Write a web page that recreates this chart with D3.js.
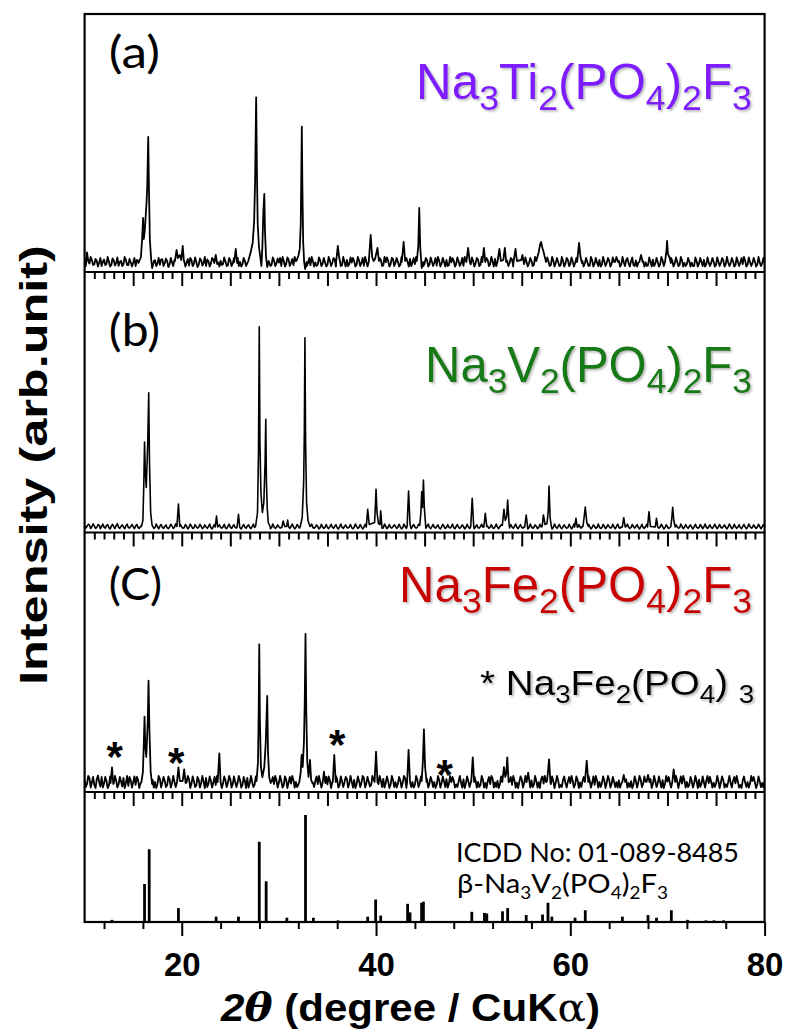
<!DOCTYPE html>
<html>
<head>
<meta charset="utf-8">
<script src="https://cdn.jsdelivr.net/npm/d3@7"></script>
<style>
  html, body { margin: 0; padding: 0; background: #fff; }
  svg { display: block; }
</style>
</head>
<body>
<svg id="chart" width="787" height="1030"></svg>
<script>
// ---------------------------------------------------------------
// XRD patterns, 2theta 10-80 deg. Background counts are sampled
// every 0.125 deg: the main arrays hold the values on the 0.25 grid,
// the *Mid arrays the values half a step later. Reflections are
// listed as runs of [2theta, counts].
// ---------------------------------------------------------------
const STEP = 0.25;

// (a) Na3Ti2(PO4)2F3
const noiseA = [
  140,195,85,120,75,110,95,60,125,80,105,70,118,88,62,112,78,122,68,98,
  92,58,115,84,104,72,90,80,62,118,86,72,128,88,108,76,96,120,110,85,
  70,112,92,64,120,82,100,74,118,90,60,108,86,124,70,96,112,80,104,66,
  118,84,96,140,102,76,110,88,100,70,112,90,64,106,120,82,98,72,116,86,
  94,60,112,80,126,90,70,108,84,102,76,120,88,66,110,96,74,118,82,100,
  72,114,90,126,84,106,68,100,122,80,94,110,70,116,88,62,104,92,120,78,
  108,84,120,66,98,112,76,130,90,104,72,118,86,100,130,94,80,110,68,102,
  86,120,74,104,92,64,116,84,100,122,70,96,112,80,108,88,62,118,94,76,
  110,86,124,72,100,92,118,78,106,130,84,98,120,74,112,90,126,82,104,96,
  120,78,100,88,112,70,108,124,96,118,84,106,72,114,90,100,66,110,86,120,
  80,104,92,118,76,110,88,100,64,116,84,96,122,72,108,90,114,78,102,86,
  112,74,98,120,88,106,70,116,92,80,110,96,66,104,124,84,100,76,118,90,
  98,74,112,86,104,68,116,92,80,108,94,62,110,84,100,120,76,96,88,106,
  70,102,90,114,78,98,86,110,66,104,92,80,112,74,100,88,106,72,96,84,
  92
];
const noiseAMid = [
  60,110,150,70,130,55,140,100,70,150,55,135,65,145,100,60,150,70,130,55,
  140,120,60,150,65,130,55,145,110,60,140,125,60,135,50,140,60,80,150,130,
  150,55,130,140,60,145,50,135,65,150,125,55,140,60,150,55,70,145,60,140,
  60,140,150,60,55,140,60,140,55,150,60,140,135,55,60,150,60,145,60,135,
  140,150,55,145,60,130,150,55,140,55,145,60,140,150,55,60,145,60,140,55,
  150,60,140,55,140,60,150,55,60,145,140,55,150,60,140,150,55,140,60,150,
  55,140,60,150,145,55,140,60,140,55,150,60,140,55,60,140,150,55,145,60,
  140,55,145,60,140,150,55,140,55,60,150,140,55,145,60,140,150,55,60,145,
  55,140,60,150,55,140,60,150,55,60,145,140,55,150,60,140,55,145,60,140,
  60,145,55,140,60,150,55,60,140,55,145,60,150,55,140,60,150,55,140,60,
  145,55,140,60,150,55,140,60,150,55,140,60,55,150,60,140,55,145,60,140,
  55,150,60,140,55,145,60,55,140,150,55,60,145,55,60,140,55,150,60,145,
  60,140,55,145,60,150,55,60,140,55,60,145,55,140,60,55,145,60,140,55,
  145,60,140,55,150,60,140,55,145,60,140,150,55,145,60,140,55,150,60,140
];
const peaksA = [
  [[15.55,90],[15.8,150],[15.92,330],[16.02,540],[16.1,330],[16.2,420],[16.38,700],[16.45,860],[16.55,1350],[16.63,800],[16.72,320],[16.85,130],[16.95,40],[17.1,90]],
  [[19.3,110],[19.47,220],[19.6,140],[19.8,170],[19.95,120],[20.1,260],[20.22,110]],
  [[23.35,90],[23.5,170],[23.65,80]],
  [[25.4,100],[25.56,230],[25.7,90]],
  [[26.85,110],[27.1,200],[27.3,290],[27.45,500],[27.55,900],[27.66,1747],[27.74,1000],[27.82,480],[27.95,250],[28.1,140],[28.2,60],[28.3,250],[28.4,600],[28.5,780],[28.57,400],[28.68,150],[28.8,50],[28.95,110]],
  [[31.8,110],[32.0,160],[32.15,230],[32.25,480],[32.3,900],[32.36,1453],[32.42,850],[32.5,300],[32.6,100],[32.7,30],[32.85,100]],
  [[35.9,110],[36.07,260],[36.2,150],[36.3,100]],
  [[39.25,100],[39.45,370],[39.6,150],[39.75,110],[39.9,130],[40.15,240],[40.3,110]],
  [[42.65,100],[42.84,300],[43.0,110]],
  [[44.2,110],[44.35,260],[44.45,640],[44.55,250],[44.7,40],[44.85,100]],
  [[49.3,100],[49.48,240],[49.65,100]],
  [[50.95,100],[51.1,240],[51.25,100]],
  [[52.5,100],[52.7,230],[52.85,110],[53.1,120],[53.26,240],[53.4,100]],
  [[54.15,100],[54.36,230],[54.5,110],[54.95,120],[55.07,170],[55.2,100]],
  [[56.5,110],[56.75,200],[56.9,280],[57.0,300],[57.1,250],[57.25,200],[57.5,100]],
  [[60.7,100],[60.9,290],[61.05,150],[61.2,90]],
  [[64.6,100],[64.75,150],[64.9,100]],
  [[67.1,100],[67.28,170],[67.45,100]],
  [[69.75,100],[69.9,220],[69.96,310],[70.05,180],[70.2,150],[70.35,90]]
];

// (b) Na3V2(PO4)2F3
const noiseB = [
  70,62,75,58,66,50,72,60,54,68,48,64,58,70,52,62,56,66,50,60,
  58,64,50,62,56,48,60,54,66,50,58,62,52,60,48,56,64,52,58,50,
  56,48,60,52,64,46,58,54,62,50,56,60,48,58,52,62,50,56,46,60,
  54,62,50,58,48,60,54,64,52,58,50,56,62,48,58,54,60,50,56,52,
  58,50,62,54,48,60,56,50,64,52,58,46,56,62,50,54,60,48,58,52,
  50,58,54,62,48,56,52,60,50,58,46,54,62,52,56,50,60,48,58,54,
  60,52,56,48,62,54,50,58,64,52,56,48,60,54,50,62,56,52,58,48,
  56,62,50,58,52,60,48,56,62,50,54,58,48,60,52,56,62,50,58,54,
  52,58,48,60,54,50,62,56,48,58,52,60,54,50,58,46,56,62,52,58,
  50,56,60,48,58,52,62,50,56,54,60,48,58,52,56,62,50,58,54,48,
  58,52,60,50,56,62,48,54,58,52,60,50,56,48,62,54,58,50,56,60,
  52,58,48,60,54,50,58,62,52,56,48,60,54,58,50,62,52,56,60,50,
  56,50,62,54,58,48,60,52,56,62,50,58,54,48,60,56,52,58,50,62,
  54,58,50,60,52,56,62,48,58,54,50,60,56,52,62,50,58,54,60,56,
  58
];
const noiseBMid = [
  45,82,40,86,42,78,38,84,44,80,36,82,40,88,42,76,38,84,44,80,
  38,80,42,76,36,82,44,78,40,84,36,80,42,76,38,82,40,86,36,78,
  42,80,36,84,40,78,44,82,38,76,42,84,36,80,40,78,44,82,38,84,
  40,78,44,82,36,80,42,76,38,84,40,80,36,82,44,78,38,84,42,76,
  44,80,38,76,42,84,36,80,44,78,40,82,38,84,42,76,36,82,40,80,
  38,82,42,78,36,84,40,76,44,80,38,84,42,78,36,82,44,76,40,84,
  36,78,42,84,38,80,44,76,40,82,36,84,42,78,38,80,44,82,36,76,
  42,84,38,80,44,76,36,82,40,78,44,84,38,80,42,76,36,82,40,84,
  38,76,44,82,36,80,42,78,40,84,38,76,44,82,36,80,42,84,38,78,
  44,80,36,84,42,76,38,82,40,80,44,78,36,84,42,80,38,76,44,82,
  36,84,40,78,44,80,38,82,36,76,42,84,40,80,38,78,44,82,36,84,
  42,76,38,84,40,80,44,78,36,82,42,84,38,76,40,80,44,82,36,78,
  40,82,36,78,44,84,38,80,42,76,36,82,44,80,38,84,40,76,42,82,
  38,80,44,76,36,84,40,82,42,78,38,80,36,84,44,76,40,82,38,80
];
const peaksB = [
  [[15.85,60],[16.0,120],[16.1,500],[16.17,905],[16.25,600],[16.35,450],[16.5,900],[16.6,1398],[16.68,700],[16.8,200],[16.95,70]],
  [[19.5,60],[19.66,285],[19.8,60]],
  [[23.45,55],[23.58,165],[23.7,55]],
  [[25.7,55],[25.84,182],[25.97,55]],
  [[27.6,60],[27.8,200],[27.9,800],[27.98,2058],[28.05,900],[28.15,400],[28.3,200],[28.45,300],[28.58,700],[28.65,1132],[28.72,500],[28.8,250],[28.9,100],[29.1,60]],
  [[30.3,50],[30.44,115],[30.6,60],[30.8,60],[30.9,125],[31.0,55]],
  [[32.2,60],[32.4,150],[32.55,500],[32.62,1000],[32.68,1948],[32.75,900],[32.85,300],[33.0,120],[33.2,60]],
  [[39.0,55],[39.14,232],[39.3,80],[39.85,100],[39.95,300],[40.0,432],[40.1,200],[40.25,90],[40.4,80],[40.48,218],[40.6,60]],
  [[43.2,60],[43.35,415],[43.5,80]],
  [[44.5,70],[44.62,200],[44.7,408],[44.78,250],[44.88,525],[44.97,250],[45.1,80]],
  [[49.75,60],[49.9,342],[50.05,70]],
  [[51.1,55],[51.25,192],[51.4,60]],
  [[53.0,70],[53.17,232],[53.3,120],[53.45,160],[53.55,325],[53.7,80]],
  [[55.3,55],[55.46,175],[55.6,55]],
  [[57.1,60],[57.23,175],[57.4,80],[57.6,90],[57.72,200],[57.81,465],[57.92,150],[58.05,60]],
  [[60.45,55],[60.58,142],[60.7,60]],
  [[61.3,60],[61.42,150],[61.54,255],[61.7,100],[61.85,60]],
  [[65.35,55],[65.5,148],[65.65,55]],
  [[67.95,55],[68.1,208],[68.25,60],[68.75,55],[68.87,142],[69.0,55]],
  [[70.35,60],[70.45,150],[70.54,252],[70.65,120],[70.8,55]]
];

// (c) Na3Fe2(PO4)2F3
const noiseC = [
  120,80,140,95,70,125,100,150,85,110,65,130,90,115,75,105,140,88,60,118,
  96,72,124,84,108,140,90,66,120,100,78,132,94,112,70,126,86,104,140,92,
  74,118,96,130,82,108,66,122,90,104,140,80,112,94,70,126,100,84,116,90,
  130,76,104,92,120,68,110,140,88,100,72,124,96,80,114,90,132,104,78,120,
  92,110,70,126,96,84,118,100,72,130,88,108,64,122,94,112,80,104,136,90,
  76,118,100,88,126,70,110,96,132,84,104,120,78,112,92,140,86,102,68,124,
  96,80,114,130,90,106,72,120,98,84,116,92,136,78,108,100,70,124,88,112,
  94,130,84,110,100,72,118,90,106,128,80,98,114,76,104,92,126,86,110,96,
  82,116,100,70,124,92,108,80,134,96,112,76,102,120,88,106,72,118,94,100,
  128,86,104,92,116,74,110,98,132,84,100,120,78,108,94,114,70,122,90,104,
  88,112,76,120,96,104,130,82,110,92,72,118,100,86,114,94,124,80,106,98,
  116,84,100,126,90,108,74,112,96,120,82,104,92,130,78,110,88,100,118,86,
  104,92,120,76,110,96,84,116,100,72,112,90,106,124,80,98,114,88,102,94,
  82,108,96,118,78,100,92,112,86,104,70,116,94,100,84,110,96,80,106,92,
  100
];
const noiseCMid = [
  50,160,45,150,40,165,55,45,150,40,155,50,160,45,150,55,40,160,150,45,
  155,150,40,160,45,50,155,150,45,40,160,45,150,50,155,45,160,50,45,155,
  150,45,160,40,155,50,150,45,160,40,50,155,45,150,160,45,40,155,50,160,
  45,155,50,160,45,150,40,45,160,50,155,45,150,160,45,50,40,150,160,45,
  160,45,155,40,150,160,45,50,155,45,160,40,150,45,50,155,160,45,40,150,
  155,40,50,160,45,155,50,150,45,160,45,40,155,50,160,45,150,55,160,40,
  45,160,50,45,155,40,160,50,45,150,45,160,40,155,50,45,160,50,155,45,
  160,45,150,50,40,160,45,155,50,45,160,150,45,50,160,45,40,155,50,160,
  155,45,50,160,45,40,150,160,45,50,40,155,160,45,50,150,160,45,40,155,
  45,160,150,45,50,160,45,40,155,160,45,50,155,40,160,45,50,155,45,150,
  160,45,155,40,50,150,45,160,45,155,160,45,50,155,40,160,45,150,50,45,
  45,155,160,45,50,40,155,45,160,50,155,45,150,40,160,50,155,45,40,160,
  150,45,50,160,40,155,160,45,50,150,45,160,40,50,155,45,160,150,45,50,
  160,40,155,45,50,160,45,150,160,45,40,155,50,45,160,150,40,155,50,45
];
const peaksC = [
  [[12.68,90],[12.82,247],[12.95,80]],
  [[15.85,100],[16.0,200],[16.1,500],[16.17,753],[16.25,450],[16.35,350],[16.5,700],[16.58,1113],[16.68,600],[16.8,200],[16.95,80]],
  [[19.5,90],[19.66,247],[19.8,110],[20.1,110],[20.25,227],[20.4,90]],
  [[23.7,100],[23.87,387],[24.0,100]],
  [[27.7,110],[27.85,300],[27.92,800],[27.98,1477],[28.05,700],[28.15,250],[28.3,150],[28.5,250],[28.65,500],[28.8,960],[28.88,400],[29.0,150],[29.15,90]],
  [[32.1,100],[32.25,200],[32.34,370],[32.45,250],[32.58,500],[32.66,900],[32.74,1580],[32.82,800],[32.92,300],[33.05,150],[33.2,320],[33.32,120],[33.45,90]],
  [[34.5,90],[34.64,203],[34.78,90]],
  [[35.55,100],[35.7,370],[35.85,100]],
  [[39.85,100],[40.0,403],[40.15,100]],
  [[43.2,100],[43.35,420],[43.5,100]],
  [[44.7,110],[44.82,300],[44.93,627],[45.05,250],[45.2,100]],
  [[49.8,100],[49.96,347],[50.1,100]],
  [[53.0,100],[53.17,248],[53.3,150],[53.4,180],[53.51,347],[53.65,100]],
  [[55.5,100],[55.66,193],[55.8,100]],
  [[57.6,110],[57.7,200],[57.81,327],[57.95,100]],
  [[61.5,100],[61.69,313],[61.85,100]],
  [[65.35,100],[65.5,170],[65.65,100]],
  [[67.85,100],[68.0,170],[68.15,100]],
  [[70.5,100],[70.64,227],[70.8,100]]
];
// impurity reflections marked with * in (c): [2theta, counts]
const starMarks = [[13.09,395],[19.43,330],[36.0,515],[47.06,215]];

// ICDD 01-089-8485, beta-Na3V2(PO4)2F3 reference lines (relative intensity)
const refPos = [12.82,16.17,16.65,19.66,23.54,25.84,27.98,28.69,30.82,32.74,33.55,36.08,
  39.14,39.96,40.48,43.25,43.5,44.69,44.88,49.86,51.16,51.4,53.02,53.55,55.46,57.14,
  57.7,58.1,60.49,61.54,65.36,68.0,68.87,70.4,72.07,73.96,74.8,75.76,79.6];
const refInt = [2,35.5,68,13,5,5,75,38,4,100,4,1.5,
  5,21,6,17,9,18,19,9.5,8.5,8,10,13,6.5,7,
  18,5,4,11,5,6.5,4,11,2,1.5,1.5,1.5,1];

// axis ticks
const labelTicks = [20, 40, 60, 80];
const minorBottomTicks = [12,16,24,28,32,36,44,48,52,56,64,68,72,76];
const boundaryMajor = [15,20,25,30,35,40,45,50,55,60,65,70,75];
const boundaryMinor = d3.range(11, 80).filter(v => v % 5 !== 0);

// ---------------------------------------------------------------
const svg = d3.select("#chart");
const X0 = 84.6, X1 = 764.6;
const x = d3.scaleLinear().domain([10, 80]).range([X0, X1]);

const TOP = 14, B1 = 272, B2 = 532.5, B3 = 792, BOTTOM = 922;

const panels = [
  { id: "a", top: TOP, bottom: B1, yMax: 2580, noise: noiseA, mid: noiseAMid, peaks: peaksA, sw: 1.8 },
  { id: "b", top: B1,  bottom: B2, yMax: 2605, noise: noiseB, mid: noiseBMid, peaks: peaksB, sw: 1.6 },
  { id: "c", top: B2,  bottom: B3, yMax: 2595, noise: noiseC, mid: noiseCMid, peaks: peaksC, sw: 1.8 }
];

// merge background samples with reflection runs (background points that
// fall inside a reflection run are replaced by that run)
function buildSeries(noise, mid, peaks) {
  const spans = peaks.map(p => [p[0][0], p[p.length - 1][0]]);
  const bg = [];
  noise.forEach((v, i) => {
    bg.push([10 + i * STEP, v]);
    if (i < mid.length) bg.push([10 + i * STEP + STEP / 2, mid[i]]);
  });
  const pts = bg.filter(d => !spans.some(s => d[0] >= s[0] && d[0] <= s[1]));
  peaks.forEach(p => p.forEach(q => pts.push(q)));
  pts.sort((a, b) => a[0] - b[0]);
  return pts;
}

const defs = svg.append("defs");
const shadow = defs.append("filter").attr("id", "shadow")
  .attr("x", "-10%").attr("y", "-20%").attr("width", "130%").attr("height", "150%");
shadow.append("feDropShadow").attr("dx", 1.6).attr("dy", 1.6)
  .attr("stdDeviation", 1.1).attr("flood-color", "#777").attr("flood-opacity", 0.55);

panels.forEach(p => {
  defs.append("clipPath").attr("id", "clip-" + p.id)
    .append("rect").attr("x", X0).attr("y", p.top)
    .attr("width", X1 - X0).attr("height", p.bottom - p.top);
  const y = d3.scaleLinear().domain([0, p.yMax]).range([p.bottom, p.top]);
  const line = d3.line().x(d => x(d[0])).y(d => y(d[1]));
  svg.append("path")
    .datum(buildSeries(p.noise, p.mid, p.peaks))
    .attr("clip-path", "url(#clip-" + p.id + ")")
    .attr("d", line)
    .attr("fill", "none")
    .attr("stroke", "#000")
    .attr("stroke-width", p.sw)
    .attr("stroke-linejoin", "round");
  p.y = y;
});

// reference stick pattern
const yRef = d3.scaleLinear().domain([0, 121.5]).range([BOTTOM, B3]);
svg.append("g").selectAll("line")
  .data(refPos.map((t, i) => [t, refInt[i]]))
  .join("line")
  .attr("x1", d => x(d[0])).attr("x2", d => x(d[0]))
  .attr("y1", yRef(0)).attr("y2", d => yRef(d[1]))
  .attr("stroke", "#000").attr("stroke-width", 2.8);

// ticks on the panel boundaries (pointing down)
[B1, B2, B3].forEach(yy => {
  const gMinor = svg.append("g").attr("transform", `translate(0,${yy})`)
    .call(d3.axisBottom(x).tickValues(boundaryMinor).tickSize(7).tickSizeOuter(0).tickFormat(""));
  const gMajor = svg.append("g").attr("transform", `translate(0,${yy})`)
    .call(d3.axisBottom(x).tickValues(boundaryMajor).tickSize(14).tickSizeOuter(0).tickFormat(""));
  [gMinor, gMajor].forEach(g => {
    g.select(".domain").remove();
    g.selectAll("line").attr("stroke", "#000").attr("stroke-width", 2);
  });
});

// bottom axis
const gBm = svg.append("g").attr("transform", `translate(0,${BOTTOM})`)
  .call(d3.axisBottom(x).tickValues(minorBottomTicks).tickSize(7).tickSizeOuter(0).tickFormat(""));
const gBM = svg.append("g").attr("transform", `translate(0,${BOTTOM})`)
  .call(d3.axisBottom(x).tickValues(labelTicks).tickSize(14).tickSizeOuter(0).tickPadding(17)
    .tickFormat(d3.format("d")));
[gBm, gBM].forEach(g => {
  g.select(".domain").remove();
  g.selectAll("line").attr("stroke", "#000").attr("stroke-width", 2);
});
gBM.selectAll("text")
  .attr("fill", "#000")
  .style("font-family", "'Liberation Sans', Arial, sans-serif")
  .style("font-weight", "bold")
  .style("font-size", "33px");

// frame and panel separators
svg.append("rect").attr("x", X0).attr("y", TOP)
  .attr("width", X1 - X0).attr("height", BOTTOM - TOP)
  .attr("fill", "none").attr("stroke", "#000").attr("stroke-width", 2.2);
[B1, B2, B3].forEach(yy => {
  svg.append("line").attr("x1", X0).attr("x2", X1).attr("y1", yy).attr("y2", yy)
    .attr("stroke", "#000").attr("stroke-width", 2.2);
});

// ---------------------------------------------------------------
// text helpers
function fitX(sel, left, right) {
  const bb = sel.node().getBBox();
  const s = (right - left) / bb.width;
  sel.attr("transform", `translate(${left},0) scale(${s},1) translate(${-bb.x},0)`);
}
// parts: [text, isSubscript]
function chem(parent, parts, baseY, size, color, font, subScale, subDrop) {
  const t = parent.append("text")
    .attr("x", 0).attr("y", baseY)
    .style("font-family", font)
    .style("font-size", size + "px")
    .attr("fill", color);
  let down = false;
  parts.forEach(([s, sub]) => {
    const ts = t.append("tspan").text(s);
    if (sub && !down) { ts.attr("dy", subDrop).style("font-size", (size * subScale) + "px"); down = true; }
    else if (sub) { ts.style("font-size", (size * subScale) + "px"); }
    else if (!sub && down) { ts.attr("dy", -subDrop); down = false; }
  });
  return t;
}

const ARIAL = "'Liberation Sans', Arial, Helvetica, sans-serif";
const CAL = "Lato, 'Open Sans', sans-serif";

// panel tags
[["(a)", 68.3, 108.8, 160], ["(b)", 346, 108.8, 160], ["(C)", 600, 108.8, 162.2]].forEach(([s, yb, l, r]) => {
  const t = svg.append("text").attr("x", 0).attr("y", yb).text(s)
    .style("font-family", CAL).style("font-size", "44px").attr("fill", "#000");
  fitX(t, l, r);
});

// compound names
const fA = chem(svg, [["Na",0],["3",1],["Ti",0],["2",1],["(PO",0],["4",1],[")",0],["2",1],["F",0],["3",1]],
  99.3, 50, "#7f1cff", ARIAL, 0.72, 11);
fA.attr("filter", "url(#shadow)");
fitX(fA, 416, 752);

const fB = chem(svg, [["Na",0],["3",1],["V",0],["2",1],["(PO",0],["4",1],[")",0],["2",1],["F",0],["3",1]],
  381.7, 50, "#137a13", ARIAL, 0.72, 11);
fB.attr("filter", "url(#shadow)");
fitX(fB, 425, 752);

const fC = chem(svg, [["Na",0],["3",1],["Fe",0],["2",1],["(PO",0],["4",1],[")",0],["2",1],["F",0],["3",1]],
  601.7, 50, "#c80000", ARIAL, 0.72, 11);
fC.attr("filter", "url(#shadow)");
fitX(fC, 399, 752);

const fL = chem(svg, [["* Na",0],["3",1],["Fe",0],["2",1],["(PO",0],["4",1],[") ",0],["3",1]],
  695, 35, "#000", ARIAL, 0.72, 8);
fL.attr("filter", "url(#shadow)");
fitX(fL, 480, 754.4);

// impurity markers
const yC = panels[2].y;
svg.append("g").selectAll("text").data(starMarks).join("text")
  .attr("x", d => x(d[0])).attr("y", d => yC(d[1]) + 18)
  .attr("text-anchor", "middle")
  .style("font-family", ARIAL).style("font-weight", "bold").style("font-size", "42px")
  .text("*");

// reference card label
const tI = svg.append("text").attr("x", 0).attr("y", 862).text("ICDD No: 01-089-8485")
  .style("font-family", CAL).style("font-size", "27px").attr("fill", "#000");
fitX(tI, 456, 739);
const tR = chem(svg, [["β-Na",0],["3",1],["V",0],["2",1],["(PO",0],["4",1],[")",0],["2",1],["F",0],["3",1]],
  893, 27, "#000", CAL, 0.65, 6);
fitX(tR, 457, 668);

// axis titles
const xt = svg.append("text").attr("x", 0).attr("y", 1021)
  .style("font-family", ARIAL).style("font-weight", "bold").style("font-size", "39px").attr("fill", "#000");
xt.append("tspan").text("2").style("font-style", "italic");
xt.append("tspan").text("θ").style("font-style", "italic").style("font-family", "'DejaVu Serif', serif");
xt.append("tspan").text(" (degree / CuK");
xt.append("tspan").text("α").style("font-weight", "normal").style("font-family", "'DejaVu Serif', serif");
xt.append("tspan").text(")");
fitX(xt, 220, 600);

const yg = svg.append("g").attr("transform", "translate(47,465) rotate(-90)");
const yt = yg.append("text").attr("x", 0).attr("y", 0).text("Intensity (arb.unit)")
  .style("font-family", ARIAL).style("font-weight", "bold").style("font-size", "39px").attr("fill", "#000");
fitX(yt, -220, 220);
</script>
</body>
</html>
